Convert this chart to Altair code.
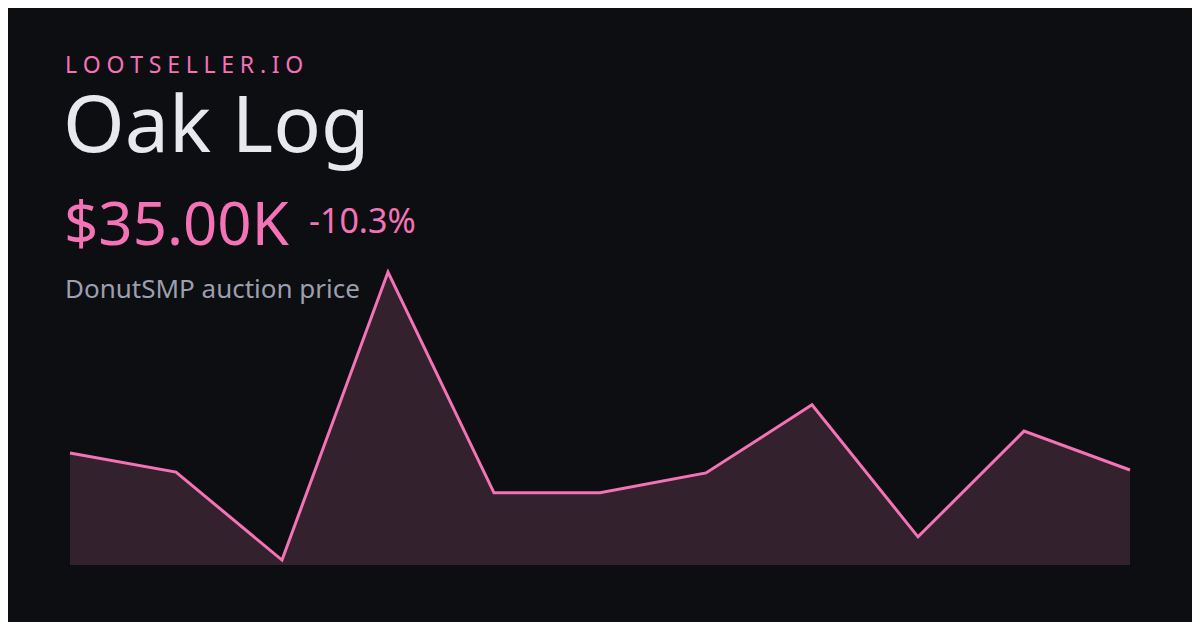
import altair as alt
import pandas as pd

points = [1, 2, 3, 4, 5, 6, 7, 8, 9, 10, 11]
prices = [39000, 34500, 13700, 81800, 29600, 29600, 34300, 50400, 19200, 44200, 35000]

brand = "LOOTSELLER.IO"
item = "Oak Log"
price_label = "$35.00K"
change_label = "-10.3%"
subtitle = "DonutSMP auction price"

BG = "#0d0e11"
PINK = "#f472b6"
FILL = "#33212e"

df = pd.DataFrame({"point": points, "price": prices})

W, H = 1060, 300
YMIN, YMAX = 12540, 83460

x = alt.X("point:Q", axis=None, scale=alt.Scale(domain=[1, 11], nice=False, zero=False))
y = alt.Y("price:Q", axis=None, scale=alt.Scale(domain=[YMIN, YMAX], nice=False, zero=False))

area = alt.Chart(df).mark_area(color=FILL, opacity=1, clip=True).encode(
    x=x, y=y, y2=alt.datum(YMIN)
)
line = alt.Chart(df).mark_line(color=PINK, strokeWidth=3, strokeJoin="miter").encode(x=x, y=y)

one = pd.DataFrame({"k": [0]})

def txt(s, xv, yv, size, color):
    return alt.Chart(one).mark_text(
        text=s, font="Noto Sans", fontSize=size, color=color,
        align="left", baseline="alphabetic"
    ).encode(x=alt.value(xv), y=alt.value(yv))

brand_spaced = "\u2005".join(brand)

texts = [
    txt(brand_spaced, -5, -192, 23, PINK),
    txt(item, -7, -113, 79, "#e8e9ee"),
    txt(price_label, -6, -20, 60, PINK),
    txt(change_label, 239, -32, 34, PINK),
    txt(subtitle, -5, 33, 26, "#9b9fae"),
]

chart = alt.layer(area, line, *texts).properties(
    width=W, height=H,
    autosize=alt.AutoSizeParams(type="none"),
    padding={"left": 62, "top": 257, "right": 62, "bottom": 57},
    background=BG,
).configure_view(stroke=None)

chart.save("out.html", embed_options={"renderer": "svg", "actions": False})
